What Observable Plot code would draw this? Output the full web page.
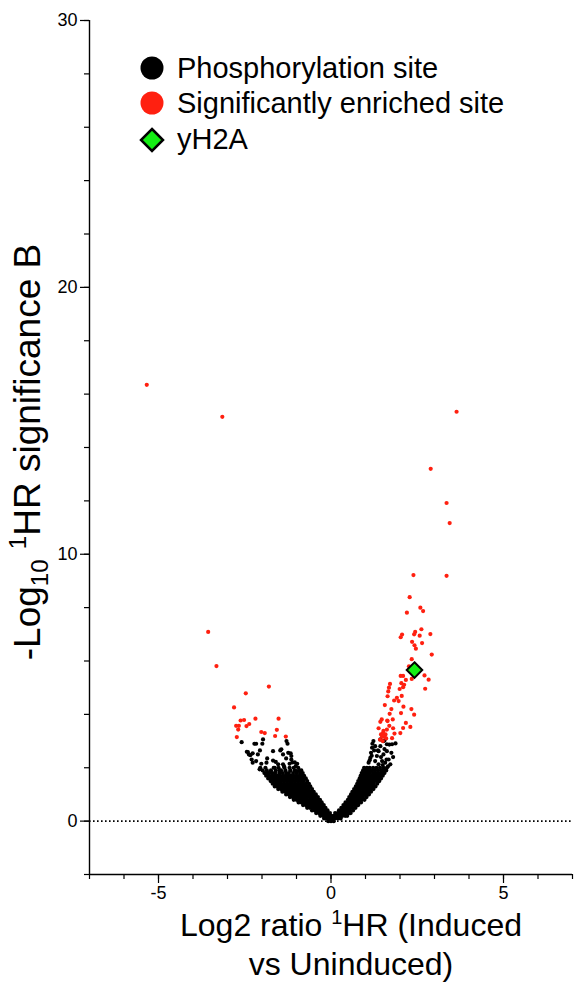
<!DOCTYPE html>
<html><head><meta charset="utf-8">
<script src="https://cdn.jsdelivr.net/npm/d3@7"></script>
<script src="https://cdn.jsdelivr.net/npm/@observablehq/plot@0.6"></script>
<style>
body{margin:0;background:#fff;}
#chart{width:577px;height:990px;}
</style></head><body><div id="chart"></div>
<script>
// ---- tick labels ----
const xMajorTicks = [-5, 0, 5];
const xMinorTicks = [-7,-6,-5,-4,-3,-2,-1,0,1,2,3,4,5,6,7];
const yMajorTicks = [0, 10, 20, 30];
const yMinorTicks = [-2,0,2,4,6,8,10,12,14,16,18,20,22,24,26,28,30];

// ---- legend labels ----
const legendLabels = ["Phosphorylation site", "Significantly enriched site", "yH2A"];

// ---- phosphorylation sites (dense body of the volcano), rows of [y, x values] ----
const blackRows = [
  [0.0, [-0.08,0.0,0.08]],
  [0.1, [-0.20,-0.12,-0.04,0.04,0.12,0.20,0.28]],
  [0.2, [-0.31,-0.23,-0.15,-0.07,0.01,0.09,0.17,0.25,0.33,0.41,0.47]],
  [0.3, [-0.43,-0.35,-0.27,-0.19,-0.11,-0.03,0.12,0.20,0.28,0.36,0.44,0.52,0.57]],
  [0.4, [-0.55,-0.47,-0.39,-0.31,-0.23,-0.15,-0.10,0.23,0.31,0.39,0.47,0.55,0.64]],
  [0.5, [-0.69,-0.61,-0.53,-0.45,-0.37,-0.29,-0.21,-0.16,0.30,0.38,0.46,0.54,0.62,0.71]],
  [0.6, [-0.81,-0.73,-0.65,-0.57,-0.49,-0.41,-0.33,-0.25,-0.21,0.36,0.44,0.52,0.60,0.68,0.76,0.79]],
  [0.7, [-0.94,-0.86,-0.78,-0.70,-0.62,-0.54,-0.46,-0.38,-0.30,-0.27,0.42,0.50,0.58,0.66,0.74,0.82,0.87]],
  [0.8, [-1.08,-1.00,-0.92,-0.84,-0.76,-0.68,-0.60,-0.52,-0.44,-0.36,-0.32,0.49,0.57,0.65,0.73,0.81,0.89,0.97]],
  [0.9, [-1.19,-1.11,-1.03,-0.95,-0.87,-0.79,-0.71,-0.63,-0.55,-0.47,-0.38,0.53,0.61,0.69,0.77,0.85,0.93,1.03]],
  [1.0, [-1.30,-1.22,-1.14,-1.06,-0.98,-0.90,-0.82,-0.74,-0.66,-0.58,-0.50,-0.44,0.58,0.66,0.74,0.82,0.90,0.98,1.06,1.10]],
  [1.1, [-1.41,-1.33,-1.25,-1.17,-1.09,-1.01,-0.93,-0.85,-0.77,-0.69,-0.61,-0.53,-0.50,0.62,0.70,0.78,0.86,0.94,1.02,1.10,1.16]],
  [1.2, [-1.53,-1.45,-1.37,-1.29,-1.21,-1.13,-1.05,-0.97,-0.89,-0.81,-0.73,-0.65,-0.55,0.67,0.75,0.83,0.91,0.99,1.07,1.15,1.23]],
  [1.3, [-1.63,-1.55,-1.47,-1.39,-1.31,-1.23,-1.15,-1.07,-0.99,-0.91,-0.83,-0.75,-0.67,-0.60,0.72,0.80,0.88,0.96,1.04,1.12,1.20,1.29]],
  [1.4, [-1.69,-1.61,-1.53,-1.45,-1.37,-1.29,-1.21,-1.13,-1.05,-0.97,-0.89,-0.81,-0.73,-0.64,0.76,0.84,0.92,1.00,1.08,1.16,1.24,1.34]],
  [1.5, [-1.75,-1.67,-1.59,-1.51,-1.43,-1.35,-1.27,-1.19,-1.11,-1.03,-0.95,-0.87,-0.79,-0.69,0.79,0.87,0.95,1.03,1.11,1.19,1.27,1.35,1.40]],
  [1.6, [-1.82,-1.74,-1.66,-1.58,-1.50,-1.42,-1.34,-1.26,-1.18,-1.10,-1.02,-0.94,-0.86,-0.78,-0.73,0.83,0.91,0.99,1.07,1.15,1.23,1.31,1.39,1.45]],
  [1.7, [-1.88,-1.80,-1.72,-1.64,-1.56,-1.48,-1.40,-1.32,-1.24,-1.16,-1.08,-1.00,-0.92,-0.84,-0.78,0.86,0.94,1.02,1.10,1.18,1.26,1.34,1.42,1.50]],
  [1.8, [-1.93,-1.84,-1.70,-1.62,-1.50,-1.40,-1.30,-1.22,-1.10,-1.00,-0.90,-0.82,0.89,0.97,1.05,1.13,1.22,1.30,1.38,1.46,1.55]],
  [1.9, [-1.98,-1.86,-1.74,-1.60,-1.45,-1.32,-1.18,-1.05,-0.92,-0.86,0.93,1.01,1.09,1.18,1.27,1.36,1.45,1.53,1.60]],
  [2.0, [-2.05,-1.66,-1.52,-1.35,-1.20,-1.08,-0.95,0.96,1.04,1.12,1.22,1.32,1.42,1.52,1.62]]
];

// ---- phosphorylation sites (sparse upper strands), [x, y] ----
const blackScatter = [
  [-2.59,2.96],[-2.17,2.90],[-1.99,2.90],[-1.97,3.06],[-2.41,2.59],[-2.34,2.47],[-2.27,2.54],
  [-2.06,2.65],[-1.68,2.62],[-1.47,2.65],[-1.26,2.90],[-1.29,3.00],[-1.17,2.54],[-1.15,2.44],
  [-2.30,2.31],[-2.17,2.25],[-2.02,2.15],[-2.07,1.94],[-1.87,2.19],[-1.90,2.00],[-1.68,2.27],
  [-1.60,2.22],[-1.53,2.13],[-1.63,2.00],[-1.39,2.13],[-1.36,2.05],[-1.49,1.90],[-1.15,2.31],
  [-1.12,2.20],[-1.02,2.06],[-1.00,1.87],[-1.44,2.69],[-1.39,2.50],[-1.24,2.56],[-2.44,2.60],
  [-2.38,2.50],[-2.22,2.90],[-2.12,2.50],[-1.85,2.35],[-1.78,1.81],[-2.27,2.19],[-1.30,2.35],
  [-1.05,2.20],[-0.98,2.15],[-1.20,2.15],
  [1.23,3.00],[1.28,2.81],[1.19,2.75],[1.16,2.56],[1.14,2.37],[1.09,2.19],[1.43,2.81],
  [1.38,2.62],[1.33,2.44],[1.28,2.25],[1.52,2.50],[1.62,2.62],[1.67,2.31],[1.57,2.19],
  [1.48,2.25],[1.77,2.88],[1.62,2.88],[1.52,3.00],[1.43,3.06],[1.72,2.13],[1.38,2.13],
  [1.87,2.91],[1.69,2.87],[1.20,2.90],[1.25,2.65],[1.18,2.45],[1.12,2.28],[1.55,2.70],
  [1.75,2.56],[1.80,2.40],[1.45,2.40],[1.61,2.31],[1.50,2.10],[1.65,2.05],[1.55,3.02],
  [1.36,2.65],[1.52,1.81]
];

// ---- significantly enriched sites, [x, y] ----
const redSites = [
  [-5.34,16.35],[-3.15,15.15],[-3.56,7.09],[-3.32,5.81],[-1.80,5.04],[-2.47,4.79],[-2.81,4.26],
  [-2.62,3.77],[-2.52,3.79],[-2.19,3.84],[-1.52,3.84],[-2.75,3.57],[-2.67,3.57],[-2.69,3.43],
  [-2.45,3.56],[-2.37,3.64],[-2.73,3.15],[-2.02,3.34],[-1.92,3.30],[-1.57,3.42],[-1.62,3.19],[-1.31,3.17],
  [3.64,15.34],[2.89,13.20],[3.35,11.92],[3.44,11.17],[2.39,9.22],[3.35,9.19],
  [2.28,8.39],[2.20,7.81],[2.59,8.00],[2.67,7.87],[2.62,7.19],[2.44,7.09],[2.41,7.00],[2.57,6.95],
  [2.88,7.01],[2.06,6.99],[2.02,6.89],[2.35,6.72],[2.64,6.67],[2.42,6.59],[2.46,6.46],[2.92,6.24],
  [2.34,6.07],[2.26,5.80],[2.71,5.46],[2.83,5.30],[2.02,5.44],[2.09,5.44],[2.17,5.29],[2.34,5.33],
  [1.71,5.14],[2.04,5.17],[2.12,5.11],[1.68,5.00],[2.09,5.02],[1.99,4.95],[1.66,4.86],[2.73,4.96],
  [1.64,4.68],[2.05,4.69],[1.91,4.62],[1.83,4.52],[1.96,4.50],[1.56,4.35],[2.10,4.29],[1.75,4.20],
  [2.33,4.20],[1.70,4.02],[2.03,4.05],[2.41,3.99],[1.47,3.81],[1.79,3.81],[1.63,3.77],
  [1.43,3.72],[1.64,3.75],[1.69,3.57],[1.38,3.48],[1.62,3.43],[1.80,3.48],[2.17,3.68],[2.09,3.49],
  [2.30,3.53],[1.51,3.30],[1.58,3.25],[1.55,3.16],[1.84,3.28],[2.01,3.30],[1.77,3.11],[1.48,3.16],
  [1.45,3.25],[1.52,3.38],[1.60,3.10],[1.42,3.05],[1.50,3.00]
];

// ---- yH2A site ----
const yH2A = [[2.42, 5.66]];

// tables for the library
const blackPts = [];
for (const [y, xs] of blackRows) for (const x of xs) blackPts.push({x, y});
for (const [x, y] of blackScatter) blackPts.push({x, y});
const redPts = redSites.map(([x, y]) => ({x, y}));
const h2aPts = yH2A.map(([x, y]) => ({x, y}));

const FONT = "'Liberation Sans', Arial, Helvetica, sans-serif";
const RED = "#ff2010";
const GREEN = "#14ee14";

const plot = Plot.plot({
  width: 577, height: 990,
  marginLeft: 89, marginRight: 5, marginTop: 20, marginBottom: 116,
  x: {domain: [-7, 7], label: null},
  y: {domain: [-2, 30], label: null},
  style: {fontFamily: FONT, background: "white", color: "black", fontSize: "18px"},
  marks: [
    Plot.ruleY([0], {stroke: "black", strokeWidth: 1.6, strokeDasharray: "1.6,2.4"}),
    Plot.dot(blackPts, {x: "x", y: "y", r: 2.1, fill: "black"}),
    Plot.dot(redPts, {x: "x", y: "y", r: 2.1, fill: RED}),
    Plot.dot(h2aPts, {x: "x", y: "y", r: 7, symbol: "diamond2", fill: GREEN, stroke: "black", strokeWidth: 2}),
    Plot.axisX(xMinorTicks, {tickSize: 5, tickFormat: () => "", label: null, strokeWidth: 1.2}),
    Plot.axisX(xMajorTicks, {tickSize: 9, tickPadding: 3, fontSize: 18, label: null, strokeWidth: 1.2, tickFormat: d => d < 0 ? "-" + Math.abs(d) : String(d)}),
    Plot.axisY(yMinorTicks, {tickSize: 5, tickFormat: () => "", label: null, strokeWidth: 1.2}),
    Plot.axisY(yMajorTicks, {tickSize: 9, tickPadding: 3, fontSize: 18, label: null, strokeWidth: 1.2}),
    Plot.ruleX([-7], {stroke: "black", strokeWidth: 1.4}),
    Plot.ruleY([-2], {stroke: "black", strokeWidth: 1.4})
  ]
});

const svg = d3.select(plot);

// y axis title
const yt = svg.append("text")
  .attr("transform", "translate(40,452) rotate(-90)")
  .attr("text-anchor", "middle")
  .attr("font-family", FONT).attr("font-size", 37).attr("fill", "black");
yt.append("tspan").text("-Log");
yt.append("tspan").attr("font-size", 24).attr("dy", 8).text("10");
yt.append("tspan").attr("dy", -8).text(" ");
yt.append("tspan").attr("font-size", 24).attr("dy", -14).text("1");
yt.append("tspan").attr("dy", 14).text("HR significance B");

// x axis title
const xt1 = svg.append("text")
  .attr("x", 351).attr("y", 936).attr("text-anchor", "middle")
  .attr("font-family", FONT).attr("font-size", 32).attr("fill", "black");
xt1.append("tspan").text("Log2 ratio ");
xt1.append("tspan").attr("font-size", 20).attr("dy", -12).text("1");
xt1.append("tspan").attr("dy", 12).text("HR (Induced");
svg.append("text")
  .attr("x", 351).attr("y", 975).attr("text-anchor", "middle")
  .attr("font-family", FONT).attr("font-size", 32).attr("fill", "black")
  .text("vs Uninduced)");

// legend
const lg = svg.append("g").attr("font-family", FONT).attr("font-size", 29).attr("fill", "black");
lg.append("circle").attr("cx", 152).attr("cy", 68).attr("r", 11.5).attr("fill", "black");
lg.append("circle").attr("cx", 152).attr("cy", 103).attr("r", 11.5).attr("fill", RED);
lg.append("path").attr("d", "M152,129 L163,140 L152,151 L141,140 Z")
  .attr("fill", GREEN).attr("stroke", "black").attr("stroke-width", 2.5).attr("stroke-linejoin", "miter");
lg.append("text").attr("x", 177).attr("y", 78).attr("text-anchor", "start").text(legendLabels[0]);
lg.append("text").attr("x", 177).attr("y", 113).attr("text-anchor", "start").text(legendLabels[1]);
lg.append("text").attr("x", 177).attr("y", 149).attr("text-anchor", "start").text(legendLabels[2]);

document.getElementById("chart").appendChild(plot);
</script>
</body></html>
